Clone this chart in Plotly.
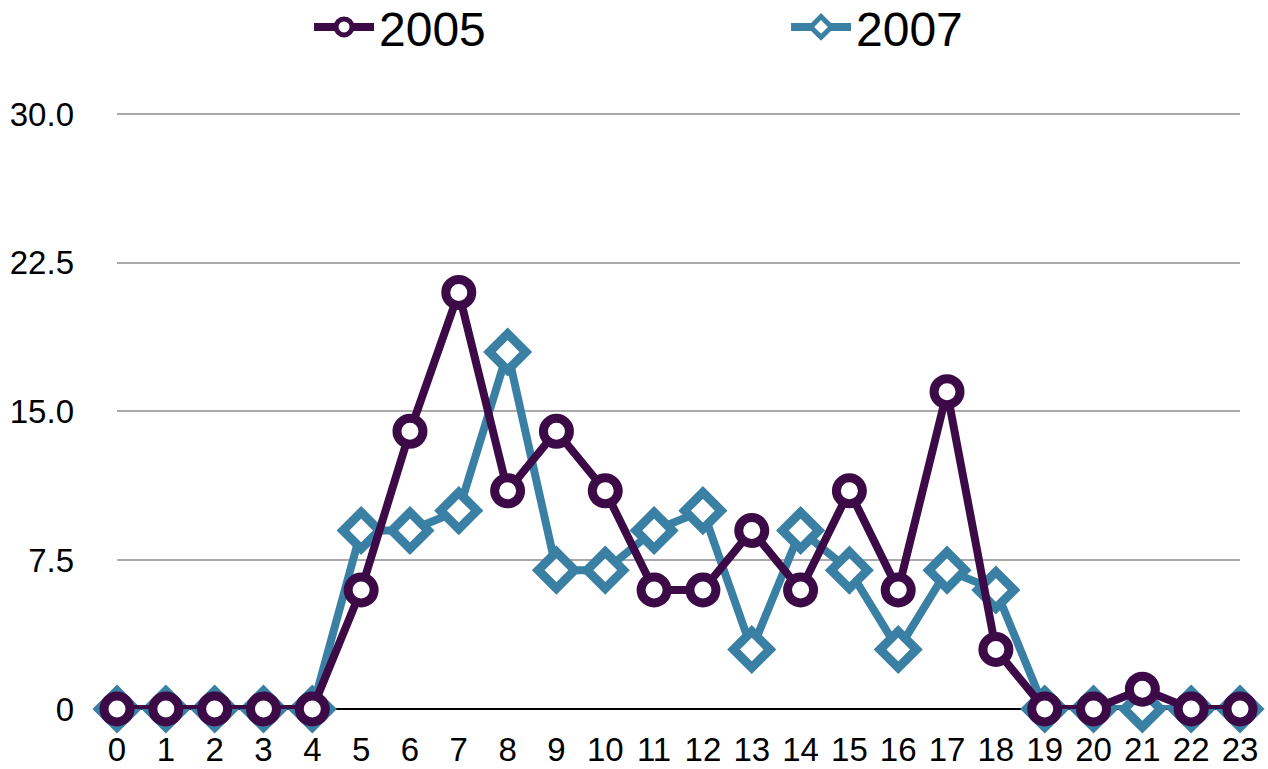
import plotly.graph_objects as go

hours = list(range(24))
vals_2005 = [0, 0, 0, 0, 0, 6, 14, 21, 11, 14, 11, 6, 6, 9, 6, 11, 6, 16, 3, 0, 0, 1, 0, 0]
vals_2007 = [0, 0, 0, 0, 0, 9, 9, 10, 18, 7, 7, 9, 10, 3, 9, 7, 3, 7, 6, 0, 0, 0, 0, 0]
y_tickvals = [0, 7.5, 15, 22.5, 30]
y_ticktext = ["0", "7.5", "15.0", "22.5", "30.0"]

PURPLE = "#3d0a48"
TEAL = "#3a80a4"

fig = go.Figure()
fig.add_trace(go.Scatter(
    x=hours, y=vals_2007, name="2007", mode="lines+markers",
    line=dict(color=TEAL, width=8),
    marker=dict(symbol="diamond", size=28, color="white",
                line=dict(color=TEAL, width=9)),
    cliponaxis=False, legendrank=2,
))
fig.add_trace(go.Scatter(
    x=hours, y=vals_2005, name="2005", mode="lines+markers",
    line=dict(color=PURPLE, width=8),
    marker=dict(symbol="circle", size=26, color="white",
                line=dict(color=PURPLE, width=9)),
    cliponaxis=False, legendrank=1,
))

fig.update_layout(
    width=1268, height=769,
    margin=dict(l=117, r=28, t=112, b=60, autoexpand=False),
    paper_bgcolor="white", plot_bgcolor="white",
    font=dict(family="Liberation Sans, Arial, sans-serif", size=33, color="black"),
    showlegend=True,
    legend=dict(orientation="h", x=0.171, xanchor="left", y=1.142, yanchor="middle",
                font=dict(size=48), entrywidth=402, itemwidth=60,
                bgcolor="rgba(0,0,0,0)"),
    xaxis=dict(range=[0, 23], tickvals=hours, ticktext=[str(h) for h in hours],
               showgrid=False, zeroline=False, showline=False,
               ticks="", ticklabelstandoff=18, tickfont=dict(size=33)),
    yaxis=dict(range=[0, 30.1], tickvals=y_tickvals, ticktext=y_ticktext,
               showgrid=True, gridcolor="#aaaaaa", gridwidth=2,
               zeroline=True, zerolinecolor="black", zerolinewidth=2,
               showline=False, ticks="", ticklabelstandoff=42,
               tickfont=dict(size=33)),
)

fig.write_html("out.html", config={"displayModeBar": False},
               post_script="document.body.style.margin='0';")
